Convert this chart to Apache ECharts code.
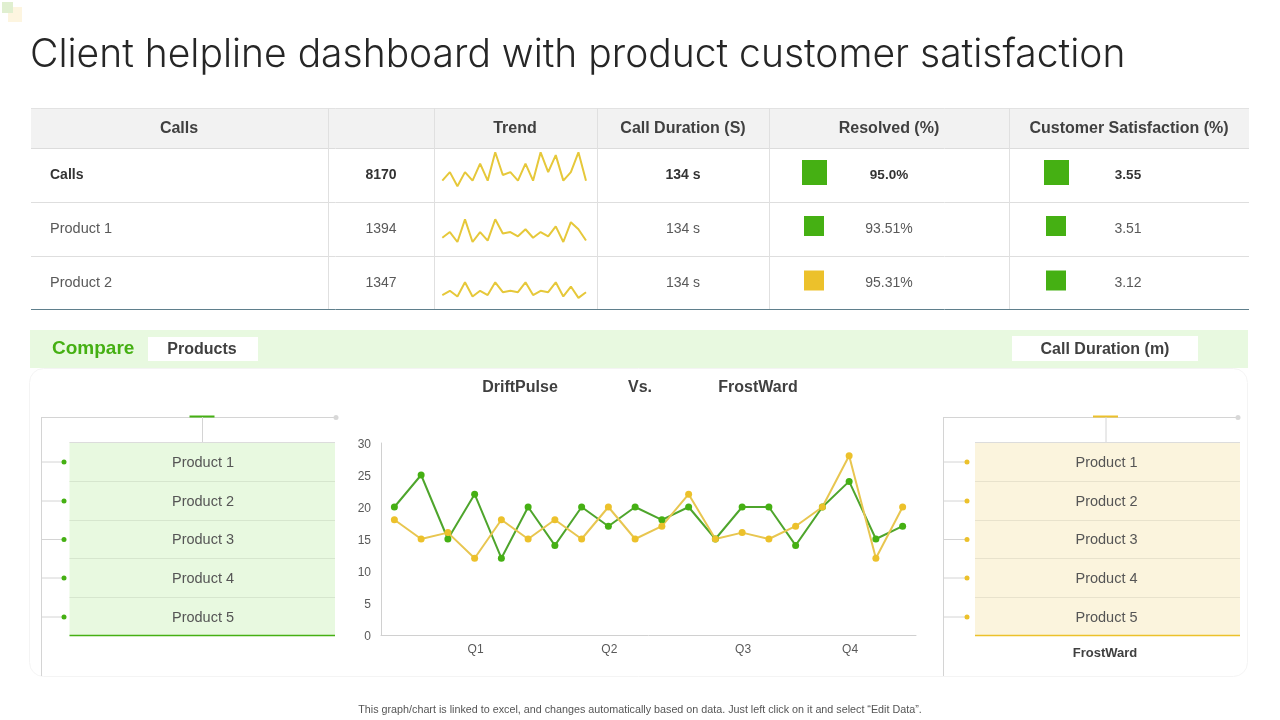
<!DOCTYPE html>
<html>
<head>
    <meta charset="utf-8">
    <title>Client helpline dashboard</title>
    <script src="https://cdn.jsdelivr.net/npm/echarts@6.0.0/dist/echarts.min.js"></script>
    <style>
        html, body { margin: 0; padding: 0; background: #fff; }
        #main { width: 1280px; height: 720px; }
    </style>
</head>
<body>
<div id="main"></div>

<script>
    const titleText = 'Client helpline dashboard with product customer satisfaction';
    const footerText = 'This graph/chart is linked to excel, and changes automatically based on data. Just left click on it and select “Edit Data”.';

    const tableHeaders = ['Calls', 'Trend', 'Call Duration (S)', 'Resolved (%)', 'Customer Satisfaction (%)'];
    const rowNames = ['Calls', 'Product 1', 'Product 2'];
    const rowCalls = ['8170', '1394', '1347'];
    const rowDuration = ['134 s', '134 s', '134 s'];
    const rowResolved = ['95.0%', '93.51%', '95.31%'];
    const rowSatisfaction = ['3.55', '3.51', '3.12'];

    const trendCalls = [20, 23, 18, 23, 20, 26, 20, 30, 22, 23, 20, 26, 20, 30, 23, 29, 20, 23, 30, 20];
    const trendProduct1 = [20, 22, 18.5, 26.5, 18.5, 22, 19, 26.5, 21.5, 22, 20.5, 23, 20, 22, 20.5, 24, 18.5, 25.5, 23, 19];
    const trendProduct2 = [20, 21.5, 19.5, 24.5, 19.5, 21.5, 20, 24.5, 21, 21.5, 21, 24.5, 20, 21.5, 21, 24.5, 19.5, 23, 19, 21];

    const quarterLabels = ['', '', '', 'Q1', '', '', '', '', 'Q2', '', '', '', '', 'Q3', '', '', '', 'Q4', '', ''];
    const driftPulse = [20, 25, 15, 22, 12, 20, 14, 20, 17, 20, 18, 20, 15, 20, 20, 14, 20, 24, 15, 17];
    const frostWard = [18, 15, 16, 12, 18, 15, 18, 15, 20, 15, 17, 22, 15, 16, 15, 17, 20, 28, 12, 20];
    const productNames = ['Product 1', 'Product 2', 'Product 3', 'Product 4', 'Product 5'];

    const GREEN = '#45b013';
    const YELLOW = '#ecc12b';
    const TEXT = '#404040';
    const SANS = '"Liberation Sans", Arial, sans-serif';

    const g = [];
    const rect = (x, y, width, height, fill, extra) => {
        g.push({ type: 'rect', silent: true, shape: { x, y, width, height, r: (extra && extra.r) || 0 },
            style: { fill, stroke: (extra && extra.stroke) || null, lineWidth: 1 } });
    };
    const line = (x1, y1, x2, y2, stroke, lineWidth = 1) => {
        g.push({ type: 'line', silent: true, shape: { x1, y1, x2, y2 }, style: { stroke, lineWidth } });
    };
    const dot = (cx, cy, r, fill) => {
        g.push({ type: 'circle', silent: true, shape: { cx, cy, r }, style: { fill } });
    };
    const label = (text, x, y, size, opts = {}) => {
        g.push({ type: 'text', silent: true, style: {
            text, x, y: y + 1,
            fontFamily: opts.family || SANS,
            fontSize: size,
            fontWeight: opts.weight || 'normal',
            fill: opts.color || TEXT,
            textAlign: opts.align || 'center',
            textVerticalAlign: 'middle'
        } });
    };

    // logo corner
    rect(8, 7, 14, 15, '#fdf5e0');
    rect(2, 2, 11, 11, '#e0efd0');

    label(titleText, 30, 54, 39, { family: 'Inter, sans-serif', weight: 300, align: 'left', color: '#262626' });

    // top table
    rect(31, 108, 1218, 40, '#f2f2f2');
    line(31, 108.5, 1249, 108.5, '#e2e2e2');
    line(31, 148.5, 1249, 148.5, '#dcdcdc');
    line(31, 202.5, 1249, 202.5, '#dedede');
    line(31, 256.5, 1249, 256.5, '#dedede');
    line(31, 309.5, 1249, 309.5, '#5f7f8c');
    [328.5, 434.5, 597.5, 769.5, 1009.5].forEach(x => line(x, 108, x, 309, '#e0e0e0'));

    const headerX = [179, 515, 683, 889, 1129];
    tableHeaders.forEach((h, i) => label(h, headerX[i], 128, 16, { weight: 'bold' }));

    const rowY = [174, 228, 282];
    const squares = [[814.5, 1056.5, 25, GREEN, GREEN], [814, 1056, 20, GREEN, GREEN], [814, 1056, 20, YELLOW, GREEN]];
    const squareY = [172.5, 226, 280.5];
    rowNames.forEach((name, i) => {
        const opts = i === 0 ? { weight: 'bold', color: '#333' } : { color: '#595959' };
        const size = i === 0 ? 14 : 14.5;
        label(name, 50, rowY[i], size, Object.assign({ align: 'left' }, opts));
        label(rowCalls[i], 381, rowY[i], 14, opts);
        label(rowDuration[i], 683, rowY[i], 14, opts);
        label(rowResolved[i], 889, rowY[i], i === 0 ? 13.5 : 14, opts);
        label(rowSatisfaction[i], 1128, rowY[i], i === 0 ? 13.5 : 14, opts);
        const s = squares[i];
        rect(s[0] - s[2] / 2, squareY[i] - s[2] / 2, s[2], s[2], s[3]);
        rect(s[1] - s[2] / 2, squareY[i] - s[2] / 2, s[2], s[2], s[4]);
    });

    // compare band
    rect(29.5, 368.5, 1218, 308, '#fff', { r: 14, stroke: '#f4f4f4' });
    rect(30, 330, 1218, 38, '#e8f9e0');
    label('Compare', 52, 347.5, 19, { weight: 'bold', color: GREEN, align: 'left' });
    rect(148, 337, 110, 24, '#fff');
    label('Products', 202, 349, 16, { weight: 'bold' });
    rect(1012, 336, 186, 25, '#fff');
    label('Call Duration (m)', 1105, 349, 16, { weight: 'bold' });
    label('DriftPulse', 520, 387, 16, { weight: 'bold' });
    label('Vs.', 640, 387, 16, { weight: 'bold' });
    label('FrostWard', 758, 387, 16, { weight: 'bold' });

    // product panels either side of the chart
    const panel = (left, boxLeft, boxRight, endX, dotX, midX, color, fill, divider) => {
        const rowsY = [442, 481, 520, 558, 597, 636];
        line(left, 417.5, endX, 417.5, '#d4d4d4');
        line(left, 417, left, 676, '#d4d4d4');
        dot(endX, 417.5, 2.5, '#d8d8d8');
        line(midX - 12.5, 416.5, midX + 12.5, 416.5, color, 2);
        line(midX + 0.5, 417, midX + 0.5, 442, '#d4d4d4');
        rect(boxLeft, 442, boxRight - boxLeft, 194, fill);
        line(boxLeft, 442.5, boxRight, 442.5, '#dcdcdc');
        productNames.forEach((name, i) => {
            const y = (rowsY[i] + rowsY[i + 1]) / 2;
            if (i > 0) line(boxLeft, rowsY[i] + 0.5, boxRight, rowsY[i] + 0.5, divider);
            line(left, y + 0.5, dotX, y + 0.5, '#d4d4d4');
            dot(dotX, y + 0.5, 2.5, color);
            label(name, midX + 1, y, 14.5, { color: '#555' });
        });
        line(boxLeft, 635.5, boxRight, 635.5, color, 1.5);
    };
    panel(41.5, 69.5, 335, 336, 64, 202, GREEN, '#e8f9e0', '#d6e6ce');
    panel(943.5, 975, 1240, 1238, 967, 1105.5, YELLOW, '#fbf4dd', '#e8e2cc');
    label('FrostWard', 1105, 652.5, 13, { weight: 'bold' });

    label(footerText, 640, 709, 10.75, { color: '#555' });

    // sparkline grids, one for each table row
    const trends = [trendCalls, trendProduct1, trendProduct2];
    const trendTops = [152.3, 209.4, 266.7];
    const grids = [{ left: 381, top: 443, width: 535, height: 192 }];
    const xAxes = [{
        type: 'category',
        gridIndex: 0,
        data: quarterLabels,
        axisTick: { show: false },
        axisLine: { lineStyle: { color: '#d0d0d0' } },
        axisLabel: { interval: 0, color: '#595959', fontSize: 12, fontFamily: SANS, margin: 9, padding: [0, 0, 0, 2] }
    }];
    const yAxes = [{
        type: 'value',
        gridIndex: 0,
        min: 0,
        max: 30,
        interval: 5,
        splitLine: { show: false },
        axisTick: { show: false },
        axisLine: { show: true, lineStyle: { color: '#d0d0d0' } },
        axisLabel: { color: '#595959', fontSize: 12, fontFamily: SANS, margin: 10, verticalAlign: 'top', lineHeight: 4 }
    }];
    const series = [
        { name: 'DriftPulse', type: 'line', xAxisIndex: 0, yAxisIndex: 0, data: driftPulse, symbol: 'circle', symbolSize: 7,
            lineStyle: { color: '#4ea52c', width: 2 }, itemStyle: { color: GREEN } },
        { name: 'FrostWard', type: 'line', xAxisIndex: 0, yAxisIndex: 0, data: frostWard, symbol: 'circle', symbolSize: 7,
            lineStyle: { color: '#e8c650', width: 2 }, itemStyle: { color: YELLOW } }
    ];
    trends.forEach((data, i) => {
        grids.push({ left: 442.3, top: trendTops[i], width: 143.7, height: 34 });
        xAxes.push({ type: 'category', gridIndex: i + 1, show: false, boundaryGap: false, data: data.map((v, j) => j) });
        yAxes.push({ type: 'value', gridIndex: i + 1, show: false, min: 18, max: 30 });
        series.push({ type: 'line', xAxisIndex: i + 1, yAxisIndex: i + 1, data, showSymbol: false, clip: false,
            lineStyle: { color: '#e6c83a', width: 2 } });
    });

    const myChart = echarts.init(document.getElementById('main'));
    myChart.setOption({
        animation: false,
        grid: grids,
        xAxis: xAxes,
        yAxis: yAxes,
        series,
        graphic: { elements: g }
    });
</script>
</body>
</html>
